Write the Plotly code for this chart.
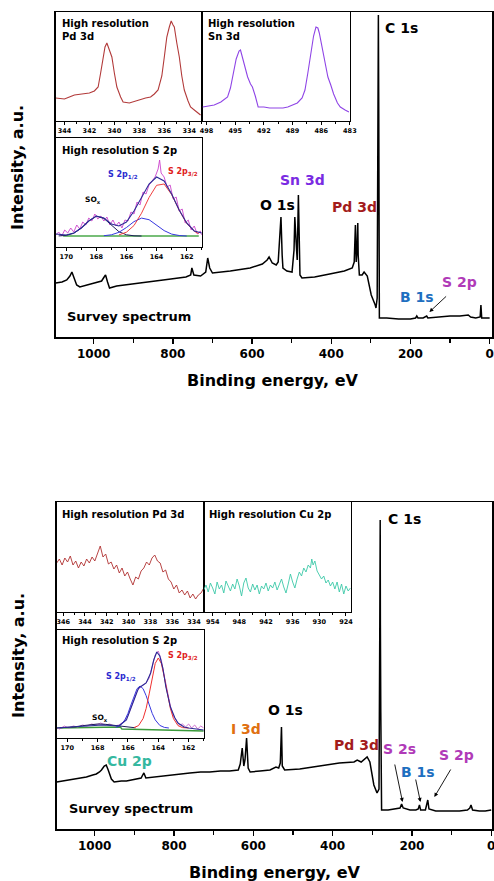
import plotly.graph_objects as go

W, H = 494, 881

# ---------------- DATA ----------------
# Top panel survey spectrum (binding energy eV, intensity a.u.)
top_be = [1096, 1080, 1068, 1060, 1055, 1050, 1043, 1035, 1018, 992, 980, 972, 970, 965, 960, 942, 905,
          855, 805, 767, 755, 752, 747, 730, 717, 712, 707, 700, 655, 605, 574, 562, 557, 549, 539, 534,
          529, 527, 524, 522, 512, 499, 494, 492, 489, 486, 483, 481, 479, 474, 442, 404, 367, 347, 342,
          339, 337, 335, 333, 332, 329, 322, 317, 309, 299, 289, 287, 284, 282, 281, 280, 278.5, 260, 230,
          200, 187, 184, 181, 168, 159, 156, 130, 100, 75, 60, 54, 48, 35, 24, 22, 20, 10, 0]
top_int = [54, 55, 57, 61, 65, 59, 52, 50, 52, 55, 56, 61, 62, 55, 49, 51, 53,
           56, 58, 60, 62, 69, 62, 61, 65, 79, 69, 64, 66, 69, 73, 77, 80, 74, 72, 75,
           107, 120, 82, 69, 66, 65, 87, 120, 97, 77, 142, 97, 62, 59, 60, 63, 66, 69, 75,
           112, 75, 87, 114, 82, 62, 62, 65, 61, 42, 32, 29, 39, 224, 322, 224, 19, 19, 18,
           18, 19, 21, 19, 19, 21, 19, 20, 21, 21, 22, 22, 20, 19, 20, 32, 19, 19, 19]

# Top inset: Pd 3d
pd1_be = [344.7, 344.0, 343.6, 343.2, 342.6, 342.0, 341.6, 341.3, 341.1, 340.9, 340.75, 340.6, 340.45,
          340.2, 340.0, 339.8, 339.5, 339.3, 338.8, 338.3, 337.9, 337.5, 337.1, 336.8, 336.5, 336.2,
          336.0, 335.8, 335.6, 335.45, 335.3, 335.2, 335.0, 334.8, 334.6, 334.4, 334.1, 333.9, 333.5, 333.1]
pd1_int = [23, 22, 24, 26, 27, 28, 30, 34, 48, 61, 74, 78, 73,
           64, 48, 34, 24, 19, 18, 20, 21, 23, 24, 27, 31, 45,
           64, 84, 94, 100, 96, 94, 78, 64, 45, 31, 20, 14, 10, 6]

# Top inset: Sn 3d
sn_be = [498.4, 497.8, 497.2, 496.5, 495.8, 495.5, 495.2, 494.9, 494.6, 494.45, 494.2, 493.9, 493.7,
         493.4, 493.2, 492.9, 492.6, 492.0, 491.4, 490.8, 490.0, 489.5, 489.0, 488.5, 488.0, 487.7,
         487.4, 487.1, 486.8, 486.55, 486.35, 486.2, 486.0, 485.7, 485.3, 485.0, 484.7, 484.3, 484.0,
         483.5, 483.1]
sn_int = [14, 15, 16, 19, 24, 33, 48, 62, 70, 71, 62, 50, 44,
          37, 34, 25, 14, 14, 13, 13, 13, 14, 16, 18, 23, 31,
          48, 68, 85, 94, 93, 88, 78, 62, 44, 36, 27, 18, 14, 11, 9]

# Top inset: S 2p (raw data, envelope, components, background)
s1_be = [170.7, 170.5, 170.3, 170.1, 169.9, 169.7, 169.5, 169.3, 169.1, 168.9, 168.7, 168.5, 168.3,
         168.1, 167.9, 167.7, 167.5, 167.3, 167.1, 166.9, 166.7, 166.5, 166.3, 166.1, 165.9, 165.7,
         165.5, 165.3, 165.1, 164.9, 164.7, 164.5, 164.3, 164.1, 163.9, 163.8, 163.7, 163.5, 163.3,
         163.1, 162.9, 162.7, 162.5, 162.3, 162.1, 161.9, 161.7, 161.5, 161.3, 161.1, 161.0]
s1_raw = [12, 15, 11, 17, 14, 19, 15, 22, 18, 25, 22, 29, 26,
          33, 28, 31, 26, 30, 22, 27, 21, 25, 19, 27, 26, 35,
          33, 45, 42, 55, 53, 62, 66, 70, 78, 87, 74, 70, 60,
          62, 48, 50, 36, 38, 24, 27, 17, 21, 13, 16, 12]
s1_env_be = [170.7, 170.0, 169.5, 169.0, 168.5, 168.0, 167.5, 167.0, 166.5, 166.0, 165.5, 165.0,
             164.5, 164.0, 163.5, 163.0, 162.5, 162.0, 161.5, 161.0]
s1_env = [13, 12, 14, 19, 26, 31, 29, 23, 21, 25, 36, 50, 63, 70, 66, 53, 37, 24, 16, 14]
s1_sox_be = [170.5, 170.0, 169.5, 169.0, 168.5, 168.0, 167.5, 167.0, 166.5, 166.0, 165.5, 165.0]
s1_sox = [11.1, 11.6, 13.7, 18.8, 26.1, 30.8, 28.6, 21.6, 15.3, 12.2, 11.2, 11]
s1_p12_be = [167.5, 167.0, 166.5, 166.0, 165.5, 165.0, 164.5, 164.0, 163.5, 163.0, 162.5, 162.0]
s1_p12 = [11.3, 12.2, 14.7, 19.5, 25.4, 28.9, 27.3, 21.9, 16.4, 12.9, 11.5, 11]
s1_p32_be = [166.5, 166.0, 165.5, 165.0, 164.5, 164.0, 163.5, 163.0, 162.5, 162.0, 161.5, 161.2]
s1_p32 = [12.1, 14.8, 21.5, 33.8, 49.5, 61.7, 63, 52.4, 36.8, 23.5, 15.7, 13.3]
s1_bg_be = [170.2, 161.2]
s1_bg = [11, 11]

# Bottom panel survey spectrum
bot_be = [1096, 1080, 1058, 1040, 1021, 1005, 996, 988, 983, 976, 971, 966, 958, 951, 940, 933, 920,
          908, 895, 883, 879, 876, 871, 850, 833, 810, 783, 760, 733, 710, 683, 660, 638, 633, 628,
          624, 621, 617, 613, 608, 583, 558, 543, 536, 532, 529, 527, 521, 483, 433, 383, 346, 338,
          328, 318, 313, 306, 296, 288, 283, 281, 280, 279.5, 278.5, 277.5, 276.5, 260, 240, 230, 226,
          222, 205, 190, 184, 181, 178, 166, 163, 160, 157, 140, 110, 80, 60, 54, 51, 47, 30, 15, 0]
bot_int = [47, 48, 50, 51, 52, 54, 55, 57, 59, 63, 64, 59, 50, 47, 48, 48, 48,
           49, 50, 51, 54, 56, 51, 52, 53, 54, 55, 56, 57, 57, 58, 58, 59, 65, 81,
           63, 69, 91, 61, 57, 58, 59, 62, 61, 66, 102, 63, 59, 60, 63, 66, 67, 69,
           67, 70, 72, 67, 44, 36, 40, 204, 309, 204, 117, 60, 19, 19, 20, 21, 25,
           21, 19, 19, 20, 24, 19, 19, 24, 29, 20, 18, 18, 18, 19, 21, 24, 19, 18, 18, 19]

# Bottom inset: Pd 3d (noisy)
pd2_be = [346.6, 346.35, 346.1, 345.85, 345.6, 345.35, 345.1, 344.85, 344.6, 344.35, 344.1, 343.85,
          343.6, 343.35, 343.1, 342.85, 342.6, 342.35, 342.1, 341.85, 341.6, 341.35, 341.1, 340.85,
          340.6, 340.35, 340.1, 339.85, 339.6, 339.35, 339.1, 338.85, 338.6, 338.35, 338.1, 337.85,
          337.6, 337.35, 337.1, 336.85, 336.6, 336.35, 336.1, 335.85, 335.6, 335.35, 335.1, 334.85,
          334.6, 334.35, 334.1, 333.85, 333.6, 333.35, 333.1]
pd2_int = [49, 53, 47, 54, 50, 56, 47, 51, 44, 50, 46, 53,
           49, 55, 51, 58, 66, 55, 58, 48, 50, 43, 47, 39,
           44, 36, 40, 33, 27, 35, 33, 41, 44, 50, 47, 54,
           57, 51, 49, 40, 42, 33, 30, 23, 27, 19, 22, 17,
           21, 14, 18, 13, 17, 19, 24]

# Bottom inset: Cu 2p (noisy)
cu_be = [956.0, 955.5, 955.0, 954.5, 954.0, 953.5, 953.0, 952.5, 952.0, 951.5, 951.0, 950.5, 950.0,
         949.5, 949.0, 948.5, 948.0, 947.5, 947.0, 946.5, 946.0, 945.5, 945.0, 944.5, 944.0, 943.5,
         943.0, 942.5, 942.0, 941.5, 941.0, 940.5, 940.0, 939.5, 939.0, 938.5, 938.0, 937.5, 937.0,
         936.5, 936.0, 935.5, 935.0, 934.5, 934.0, 933.5, 933.0, 932.5, 932.0, 931.7, 931.4, 931.0,
         930.5, 930.0, 929.5, 929.0, 928.5, 928.0, 927.5, 927.0, 926.5, 926.0, 925.5, 925.0, 924.5,
         924.0, 923.5, 923.0]
cu_int = [22, 27, 20, 29, 24, 18, 30, 23, 27, 19, 31, 25, 21,
          28, 23, 33, 26, 16, 29, 34, 24, 20, 28, 22, 27, 18,
          26, 23, 29, 21, 27, 24, 30, 22, 27, 33, 25, 19, 28,
          38, 30, 24, 33, 40, 36, 44, 40, 47, 44, 53, 47, 51,
          41, 37, 33, 36, 29, 32, 26, 30, 23, 30, 20, 28, 18,
          26, 21, 24]

# Bottom inset: S 2p
s2_be = [170.8, 170.5, 170.2, 169.9, 169.6, 169.3, 169.0, 168.7, 168.4, 168.1, 167.8, 167.5, 167.2,
         166.9, 166.6, 166.3, 166.0, 165.7, 165.4, 165.1, 164.8, 164.6, 164.4, 164.2, 164.0, 163.8,
         163.6, 163.4, 163.2, 163.0, 162.8, 162.6, 162.4, 162.2, 162.0, 161.8, 161.6, 161.4, 161.2, 161.0]
s2_raw = [11, 9, 12, 10, 12, 11, 13, 12, 14, 13, 15, 13, 14,
          12, 13, 16, 22, 34, 47, 52, 55, 60, 72, 83, 87, 78,
          62, 45, 32, 22, 17, 13, 14, 11, 14, 10, 13, 9, 12, 10]
s2_env_be = [170.8, 169.5, 168.8, 167.7, 166.6, 166.1, 165.6, 165.3, 165.0, 164.8, 164.5, 164.3,
             164.1, 163.9, 163.7, 163.5, 163.2, 162.9, 162.7, 162.3, 162.0, 161.5, 161.0]
s2_env = [10, 11, 12, 13, 12, 18, 38, 50, 53, 55, 65, 78, 86, 82, 70, 51, 31, 20, 15, 11, 10, 9, 8]
s2_sox_be = [170.5, 170.0, 169.5, 169.0, 168.5, 168.0, 167.5, 167.0, 166.5, 166.0, 165.5]
s2_sox = [10.2, 10.5, 11.2, 12.3, 13.4, 14, 13.7, 12.7, 11.5, 10.6, 10.2]
s2_p12_be = [166.8, 166.5, 166.2, 166.0, 165.8, 165.6, 165.4, 165.2, 165.0, 164.8, 164.6, 164.4,
             164.2, 163.9, 163.6, 163.3]
s2_p12 = [10.6, 12.6, 18.1, 24.6, 33.2, 42.3, 49.3, 52, 49.3, 42.3, 33.2, 24.6, 18.1, 12.6, 10.6, 10]
s2_p32_be = [165.6, 165.3, 165.0, 164.8, 164.6, 164.4, 164.2, 164.0, 163.8, 163.6, 163.4, 163.2,
             163.0, 162.7, 162.4, 162.0]
s2_p32 = [10.4, 12.4, 19.5, 29.5, 44.1, 60.8, 74.6, 80, 74.6, 60.8, 44.1, 29.5, 19.5, 12.4, 10.4, 10]
s2_bg_be = [170.8, 166.5, 166.4, 163.5, 161.0]
s2_bg = [10, 11, 9, 8, 7]

# ---------------- FIGURE ----------------
# The browser lays the page out ~500 px wide before the shot is fitted to 494 px,
# so the figure is drawn 500 px wide; all placements are given as fractions of the 494 design.
FIG_W = 500
SX = FIG_W / W


def dx(a, b):
    return [a / W, b / W]


def dy(top, bottom):
    return [1 - bottom / H, 1 - top / H]


def px(x):
    return x / W


def py(y):
    return 1 - y / H


FONT = "DejaVu Sans"
fig = go.Figure()


def line(xs, ys, ax, color, width=1.0, dash=None):
    fig.add_trace(go.Scatter(x=xs, y=ys, mode="lines", xaxis="x" + ax, yaxis="y" + ax,
                             line=dict(color=color, width=width, dash=dash), hoverinfo="skip",
                             showlegend=False))


# top
line(top_be, top_int, "", "black", 1.5)
line(pd1_be, pd1_int, "2", "#b23a3a", 1.1)
line(sn_be, sn_int, "3", "#8f45e6", 1.1)
line(s1_bg_be, s1_bg, "4", "#4aa84a", 1.3)
line(s1_be, s1_raw, "4", "#cc44cc", 0.9)
line(s1_sox_be, s1_sox, "4", "#1d1d5a", 1.0)
line(s1_p12_be, s1_p12, "4", "#3838e0", 1.0)
line(s1_p32_be, s1_p32, "4", "#f04040", 1.0)
line(s1_env_be, s1_env, "4", "#2a2a96", 1.1)
# bottom
line(bot_be, bot_int, "5", "black", 1.5)
line(pd2_be, pd2_int, "6", "#b03030", 0.9)
line(cu_be, cu_int, "7", "#3cc8a8", 0.9)
line(s2_bg_be, s2_bg, "8", "#3a9a3a", 1.3)
line(s2_be, s2_raw, "8", "#cc66cc", 0.9)
line(s2_sox_be, s2_sox, "8", "#1d1d5a", 1.0)
line(s2_p12_be, s2_p12, "8", "#3838e0", 1.0)
line(s2_p32_be, s2_p32, "8", "#f03030", 1.0)
line(s2_env_be, s2_env, "8", "#2a2a96", 1.1)


def main_x(rng, dom, anchor):
    return dict(range=rng, domain=dom, anchor=anchor, showline=True, linecolor="black", linewidth=1.5,
                mirror=True, ticks="outside", ticklen=5, tickwidth=1.3, tickcolor="black",
                tick0=0, dtick=200,
                minor=dict(ticks="outside", tick0=0, dtick=100, ticklen=4, tickwidth=1.2, tickcolor="black"),
                tickfont=dict(family=FONT, size=12, color="black", weight="bold"),
                showgrid=False, zeroline=False, fixedrange=True)


def main_y(rng, dom, anchor):
    return dict(range=rng, domain=dom, anchor=anchor, showline=True, linecolor="black", linewidth=1.5,
                mirror=True, ticks="", showticklabels=False, showgrid=False, zeroline=False)


def ins_x(rng, dom, anchor, dtick, tick0, mdtick):
    return dict(range=rng, domain=dom, anchor=anchor, showline=True, linecolor="black", linewidth=1,
                mirror=True, ticks="outside", ticklen=3, tickwidth=1, tickcolor="black",
                tick0=tick0, dtick=dtick,
                minor=dict(ticks="outside", tick0=tick0, dtick=mdtick, ticklen=2, tickcolor="black"),
                tickfont=dict(family=FONT, size=6.5, color="black", weight="bold"),
                showgrid=False, zeroline=False)


def ins_y(rng, dom, anchor):
    return dict(range=rng, domain=dom, anchor=anchor, showline=True, linecolor="black", linewidth=1,
                mirror=True, ticks="", showticklabels=False, showgrid=False, zeroline=False)


fig.update_layout(
    width=FIG_W, height=H, autosize=False,
    margin=dict(l=0, r=0, t=0, b=0),
    paper_bgcolor="white", plot_bgcolor="rgba(0,0,0,0)",
    showlegend=False,
    xaxis=main_x([1096, -6], dx(54, 493), "y"),
    yaxis=main_y([0, 325], dy(12, 337), "x"),
    xaxis2=ins_x([344.7, 333.0], dx(54, 201), "y2", 2, 334, 1),
    yaxis2=ins_y([0, 109], dy(12, 121), "x2"),
    xaxis3=ins_x([498.5, 483.0], dx(201, 350), "y3", 3, 483, 1.5),
    yaxis3=ins_y([0, 109], dy(12, 121), "x3"),
    xaxis4=ins_x([170.7, 161.0], dx(54, 201), "y4", 2, 162, 1),
    yaxis4=ins_y([0, 109], dy(138, 247), "x4"),
    xaxis5=main_x([1096, -2], dx(55, 493), "y5"),
    yaxis5=main_y([0, 327], dy(502, 829), "x5"),
    xaxis6=ins_x([346.6, 333.1], dx(55, 203), "y6", 2, 334, 1),
    yaxis6=ins_y([0, 110], dy(502, 612), "x6"),
    xaxis7=ins_x([956.0, 922.9], dx(203, 351), "y7", 6, 924, 3),
    yaxis7=ins_y([0, 110], dy(502, 612), "x7"),
    xaxis8=ins_x([170.7, 161.0], dx(55, 203), "y8", 2, 162, 1),
    yaxis8=ins_y([0, 108], dy(630, 738), "x8"),
)

ann = []


def text(x, y, s, size=14, color="black", xanchor="center", yanchor="middle", align="center", angle=0):
    ann.append(dict(x=px(x), y=py(y), xref="paper", yref="paper", text=s, showarrow=False,
                    xanchor=xanchor, yanchor=yanchor, align=align, textangle=angle,
                    font=dict(family=FONT, size=size, color=color, weight="bold")))


def arrow(hx, hy, tx, ty):
    ann.append(dict(x=px(hx), y=py(hy), xref="paper", yref="paper", text="", showarrow=True,
                    ax=(tx - hx) * SX, ay=ty - hy, axref="pixel", ayref="pixel",
                    arrowhead=2, arrowsize=0.9, arrowwidth=0.9, arrowcolor="black"))


# axis titles
text(16, 167, "Intensity, a.u.", 16, angle=-90)
text(16, 655, "Intensity, a.u.", 16, angle=-90)
text(273, 380, "Binding energy, eV", 16)
text(275, 872, "Binding energy, eV", 16)

# top panel labels
text(402, 28, "C 1s", 14)
text(302, 180, "Sn 3d", 14, "#7a2be2")
text(277, 205, "O 1s", 14)
text(355, 207, "Pd 3d", 14, "#a31c1c")
text(418, 297, "B 1s", 14, "#1e6fc0")
text(460, 282, "S 2p", 14, "#b03ab8")
text(128, 316, "Survey spectrum", 13)
arrow(430, 312, 448, 295)

# top insets
text(58, 16, "High resolution<br>Pd 3d", 10, xanchor="left", yanchor="top", align="left")
text(205, 16, "High resolution<br>Sn 3d", 10, xanchor="left", yanchor="top", align="left")
text(58, 143, "High resolution S 2p", 10, xanchor="left", yanchor="top", align="left")
text(122, 175, "S 2p<sub>1/2</sub>", 8, "#2a2ad0")
text(182, 172, "S 2p<sub>3/2</sub>", 8, "#e02020")
text(92, 200, "SO<sub>x</sub>", 7.5)

# bottom panel labels
text(405, 519, "C 1s", 14)
text(285, 710, "O 1s", 14)
text(245, 729, "I 3d", 14, "#e07010")
text(357, 745, "Pd 3d", 14, "#a31c1c")
text(400, 749, "S 2s", 14, "#b03ab8")
text(457, 755, "S 2p", 14, "#b03ab8")
text(419, 772, "B 1s", 14, "#1e6fc0")
text(128, 761, "Cu 2p", 14, "#35b8a0")
text(130, 808, "Survey spectrum", 13)
arrow(403, 802, 395, 763)
arrow(421, 802, 416, 778)
arrow(435, 797, 452, 768)

# bottom insets
text(58, 507, "High resolution Pd 3d", 10, xanchor="left", yanchor="top", align="left")
text(206, 507, "High resolution Cu 2p", 10, xanchor="left", yanchor="top", align="left")
text(58, 633, "High resolution S 2p", 10, xanchor="left", yanchor="top", align="left")
text(120, 677, "S 2p<sub>1/2</sub>", 8, "#2a2ad0")
text(182, 656, "S 2p<sub>3/2</sub>", 8, "#e02020")
text(99, 718, "SO<sub>x</sub>", 7.5)

fig.update_layout(annotations=ann)
fig.write_html(
    "out.html",
    config=dict(responsive=False, displayModeBar=False, staticPlot=True),
    post_script="document.body.style.margin='0';"
                "document.documentElement.style.overflow='hidden';"
                "document.body.style.overflow='hidden';",
)
